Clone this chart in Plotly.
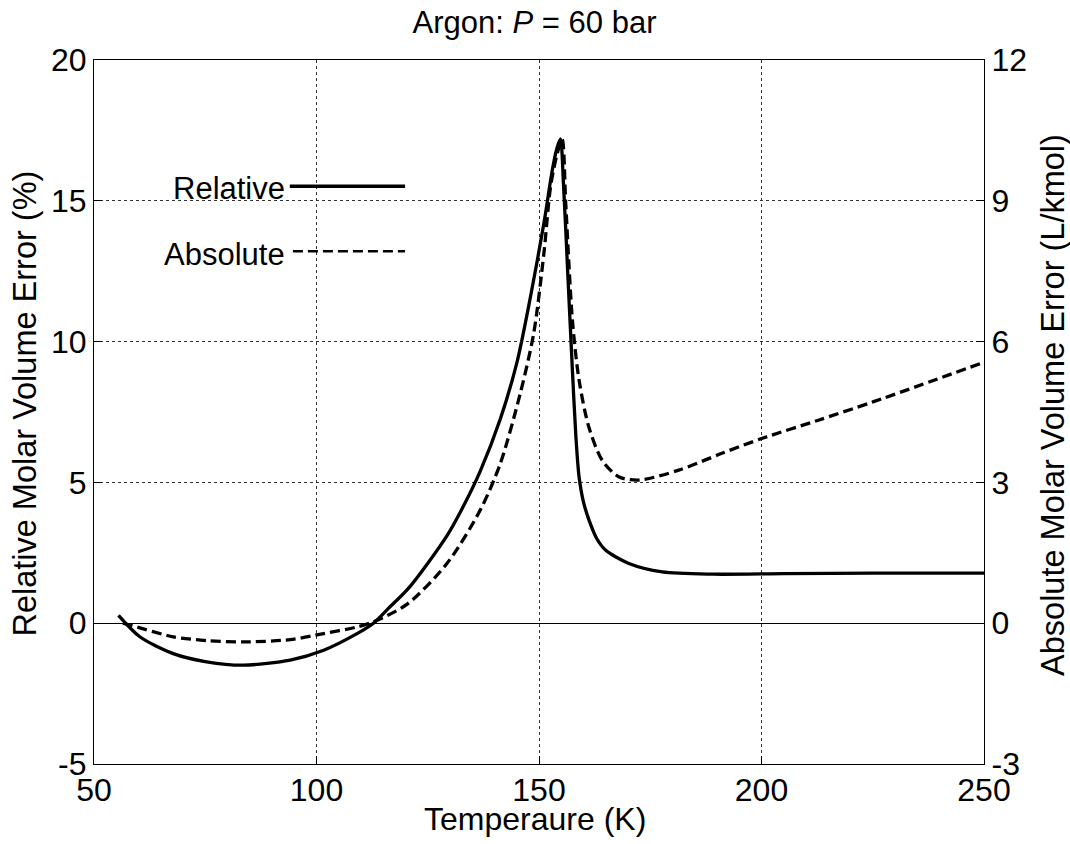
import plotly.graph_objects as go

# Relative molar volume error (%) vs temperature (K) -- solid curve
rel_T = [55.5, 60.3, 67.8, 75.3, 83.6, 94.1, 101.6, 109.1, 112.8, 116.0, 121.0,
         129.3, 133.0, 136.8, 141.3, 145.1, 148.1, 151.1, 153.0, 154.0, 154.8, 155.5,
         156.5, 157.5, 158.3, 159.0, 160.0, 161.2, 163.0, 165.0, 170.2, 177.7,
         189.0, 205.0, 225.0, 250.0]
rel_err = [0.28, -0.48, -1.08, -1.37, -1.49, -1.31, -0.96, -0.37, 0.0, 0.5, 1.3,
           3.1, 4.15, 5.4, 7.25, 9.3, 11.6, 14.2, 16.1, 16.85, 17.2, 15.6,
           12.3, 9.0, 6.6, 5.2, 4.3, 3.68, 3.0, 2.59, 2.12, 1.82,
           1.74, 1.76, 1.78, 1.78]

# Absolute molar volume error (L/kmol) vs temperature (K) -- dashed curve
abs_T = [56.5, 58.1, 67.8, 75.3, 83.6, 94.1, 101.6, 109.1, 112.8, 120.3,
         129.3, 136.8, 141.3, 145.8, 148.8, 151.1, 152.6, 154.1, 155.2, 156.0,
         157.5, 159.0, 161.2, 164.2, 167.9, 172.4, 181.4, 191.1, 200.2, 212.6,
         225.2, 250.0]
abs_err = [0.0, -0.04, -0.29, -0.37, -0.40, -0.35, -0.22, -0.08, 0.03, 0.40,
           1.27, 2.41, 3.40, 4.90, 6.17, 7.88, 9.30, 10.01, 10.31, 8.95,
           6.46, 5.18, 4.18, 3.47, 3.12, 3.05, 3.26, 3.62, 3.94, 4.32,
           4.72, 5.56]

x_ticks = [50, 100, 150, 200, 250]
y_ticks = [-5, 0, 5, 10, 15, 20]
y2_ticks = [-3, 0, 3, 6, 9, 12]

FONT = "Liberation Sans, Arial, Helvetica, sans-serif"
TXT = 31

fig = go.Figure()
fig.add_trace(go.Scatter(x=rel_T, y=rel_err, mode="lines", name="Relative",
                         line=dict(color="black", width=3.3, shape="spline", smoothing=0.8),
                         yaxis="y"))
fig.add_trace(go.Scatter(x=abs_T, y=abs_err, mode="lines", name="Absolute",
                         line=dict(color="black", width=3.3, dash="10px,5px", shape="spline", smoothing=0.8),
                         yaxis="y2"))

fig.update_layout(
    width=1070, height=844,
    margin=dict(l=94, r=86, t=60, b=80),
    paper_bgcolor="white", plot_bgcolor="white",
    showlegend=False,
    font=dict(family=FONT, color="black"),
    title=dict(text="Argon: <i>P</i> = 60 bar", x=0.495, xref="paper", xanchor="center",
               y=0.974, yref="container", yanchor="middle",
               font=dict(size=TXT, family=FONT, color="black")),
    xaxis=dict(range=[50, 250], tickvals=x_ticks, ticktext=[str(v) for v in x_ticks],
               showgrid=True, gridcolor="#333", griddash="dot", gridwidth=1,
               zeroline=False, showline=True, linecolor="black", linewidth=1.2,
               mirror=True, ticks="inside", ticklen=8, tickcolor="black",
               tickfont=dict(size=32, family=FONT), ticklabelstandoff=-3),
    yaxis=dict(range=[-5, 20], tickvals=y_ticks, ticktext=[str(v) for v in y_ticks],
               showgrid=True, gridcolor="#333", griddash="dot", gridwidth=1,
               zeroline=True, zerolinecolor="black", zerolinewidth=1,
               showline=True, linecolor="black", linewidth=1.2,
               ticks="inside", ticklen=8, tickcolor="black",
               tickfont=dict(size=32, family=FONT)),
    yaxis2=dict(range=[-3, 12], tickvals=y2_ticks, ticktext=[str(v) for v in y2_ticks],
                overlaying="y", side="right", showgrid=False, zeroline=False,
                showline=True, linecolor="black", linewidth=1.2,
                ticks="inside", ticklen=8, tickcolor="black",
                tickfont=dict(size=32, family=FONT)),
)

# Axis titles
fig.add_annotation(x=0.4955, y=-0.0775, xref="paper", yref="paper", text="Temperaure (K)",
                   showarrow=False, xanchor="center", yanchor="middle",
                   font=dict(size=32, family=FONT, color="black"))
fig.add_annotation(x=-0.0775, y=0.512, xref="paper", yref="paper",
                   text="Relative Molar Volume Error (%)", textangle=-90,
                   showarrow=False, xanchor="center", yanchor="middle",
                   font=dict(size=32.5, family=FONT, color="black"))
fig.add_annotation(x=1.0775, y=0.51, xref="paper", yref="paper",
                   text="Absolute Molar Volume Error (L/kmol)", textangle=-90,
                   showarrow=False, xanchor="center", yanchor="middle",
                   font=dict(size=32.5, family=FONT, color="black"))

# Legend drawn as text labels to the left of line samples (as in the original)
fig.add_annotation(x=93.3, y=15.45, xref="x", yref="y", text="Relative", showarrow=False,
                   xanchor="right", yanchor="middle", font=dict(size=TXT, family=FONT, color="black"))
fig.add_annotation(x=93.3, y=13.1, xref="x", yref="y", text="Absolute", showarrow=False,
                   xanchor="right", yanchor="middle", font=dict(size=TXT, family=FONT, color="black"))
fig.add_shape(type="line", xref="x", yref="y", x0=94.0, x1=119.9, y0=15.52, y1=15.52,
              line=dict(color="black", width=3.5))
fig.add_shape(type="line", xref="x", yref="y", x0=94.7, x1=119.9, y0=13.21, y1=13.21,
              line=dict(color="black", width=2.5, dash="10px,5px"))

fig.write_html("out.html")
